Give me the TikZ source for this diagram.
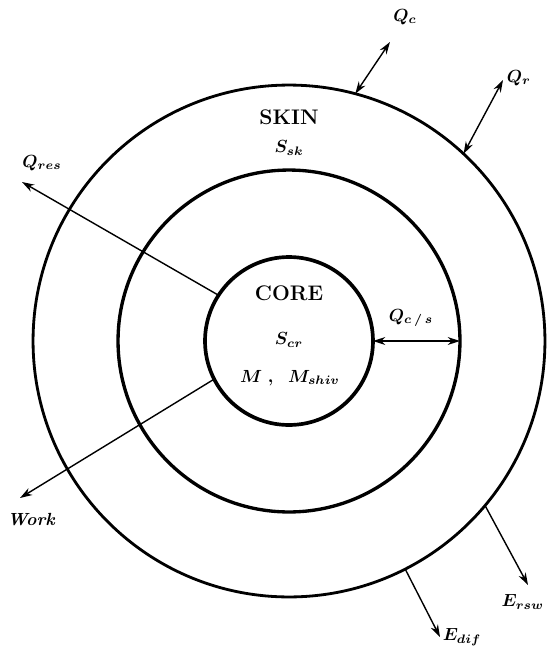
\documentclass[tikz,border=0pt]{standalone}
\usepackage{amsmath,amssymb}
\usetikzlibrary{arrows.meta,positioning}

\begin{document}
\begin{tikzpicture}[x=0.02cm, y=-0.02cm,
  ring/.style={circle, draw=black, line width=#1, outer sep=0pt, inner sep=0pt},
  arr/.style={-{Stealth[length=7pt,width=4.5pt]}, line width=0.8pt},
  darr/.style={{Stealth[length=7pt,width=4.5pt]}-{Stealth[length=7pt,width=4.5pt]}, line width=0.8pt},
  lbl/.style={font=\boldmath, inner sep=1pt},
  ttl/.style={font=\large\bfseries, inner sep=1pt}
]
\useasboundingbox (0,0) rectangle (547,647);

% the three layers
\node[ring=1.6pt, minimum size=10.24cm] (skin)  at (289,341) {};
\node[ring=1.9pt, minimum size=6.84cm]  (shell) at (289,341) {};
\node[ring=2.1pt, minimum size=3.36cm]  (core)  at (289,341) {};

% free ends of the flows
\coordinate (qcend)   at (390,42);
\coordinate (qrend)   at (503,80);
\coordinate (qresend) at (22,182);
\coordinate (workend) at (20,498);
\coordinate (ersend)  at (528,585);
\coordinate (edfend)  at (440,637);

\draw[darr] (skin.75)   -- (qcend);
\draw[darr] (skin.47.7) -- (qrend);
\draw[arr]  (core.147)  -- (qresend);
\draw[arr]  (core.207)  -- (workend);
\draw[arr]  (skin.-40.5) -- (ersend);
\draw[arr]  (skin.-63.5) -- (edfend);
\draw[darr] (core.east) -- (shell.east);

% texts
\node[ttl] (skintxt) at (289,117) {SKIN};
\node[lbl] (ssk)     at (289,148) {$S_{sk}$};
\node[ttl] (coretxt) at (289,293) {CORE};
\node[lbl] (scr)     at (289,340) {$S_{cr}$};
\node[lbl] (mshiv)   at (290,378) {$M\;,\;\;M_{shiv}$};
\node[lbl] (qcs)     at (411,318) {$Q_{c\,/\,s}$};

\node[lbl] (qc)   at (405,17)  {$Q_c$};
\node[lbl] (qr)   at (519,78)  {$Q_r$};
\node[lbl] (qres) at (42,163)  {$Q_{res}$};
\node[lbl] (work) at (31,520)  {\itshape\bfseries Work};
\node[lbl, anchor=east] (ers) at (546,602) {$E_{rsw}$};
\node[lbl] (edf)  at (462,637) {$E_{dif}$};
\end{tikzpicture}
\end{document}
